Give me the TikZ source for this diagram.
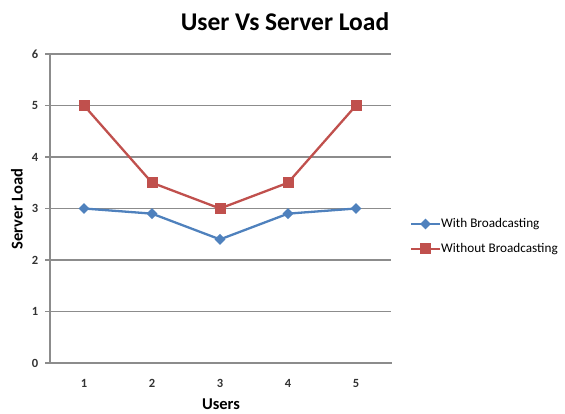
\documentclass[tikz,border=0pt]{standalone}
\usepackage{fontspec}
\setmainfont{Carlito}
\usetikzlibrary{shapes.geometric}
\definecolor{serblue}{HTML}{4F81BD}
\definecolor{serred}{HTML}{C0504D}
\definecolor{gridgray}{HTML}{8C8C8C}
\begin{document}
\begin{tikzpicture}[x=1pt,y=-1pt,
  grid/.style={draw=gridgray,line width=1.1pt},
  ticklbl/.style={font=\fontsize{12.5}{12.5}\selectfont\bfseries,text=black!80,inner sep=0pt},
  axtitle/.style={font=\fontsize{16.5}{16.5}\selectfont\bfseries,inner sep=0pt},
  bluemark/.style={diamond,fill=serblue,inner sep=0pt,minimum width=11pt,minimum height=11pt},
  redmark/.style={rectangle,fill=serred,inner sep=0pt,minimum size=11pt},
  blueline/.style={draw=serblue,line width=2.3pt,line join=round},
  redline/.style={draw=serred,line width=2.3pt,line join=round},
  legtext/.style={font=\fontsize{13.2}{13.2}\selectfont,anchor=west,inner sep=0pt}]
\useasboundingbox (0,0) rectangle (565,414);

% horizontal gridlines and value-axis labels
\foreach \k in {1,...,6} {
  \draw[grid] (45,{363-51.5*\k}) -- (391,{363-51.5*\k});
}
\foreach \k in {0,...,6} {
  \node[ticklbl] (yl\k) at (35,{363-51.5*\k}) {\k};
}
% axes
\draw[grid] (50,55) -- (50,363);
\draw[grid] (45,363) -- (392,363);

% category labels
\foreach \i in {1,...,5} {
  \node[ticklbl] (xl\i) at ({50+68*(\i-0.5)},383) {\i};
}

% titles
\node[font=\fontsize{25.5}{25.5}\selectfont\bfseries,inner sep=0pt] (title) at (285,22) {User Vs Server Load};
\node[axtitle] (xtitle) at (221,404) {Users};
\node[axtitle,rotate=90] (ytitle) at (17,209) {Server Load};

% series: without broadcasting
\foreach \i/\v in {1/5,2/3.5,3/3,4/3.5,5/5} {
  \coordinate (r\i) at ({50+68*(\i-0.5)},{363-51.5*\v});
}
\draw[redline] (r1) -- (r2) -- (r3) -- (r4) -- (r5);
\foreach \i in {1,...,5} { \node[redmark] (rm\i) at (r\i) {}; }

% series: with broadcasting
\foreach \i/\v in {1/3,2/2.9,3/2.4,4/2.9,5/3} {
  \coordinate (b\i) at ({50+68*(\i-0.5)},{363-51.5*\v});
}
\draw[blueline] (b1) -- (b2) -- (b3) -- (b4) -- (b5);
\foreach \i in {1,...,5} { \node[bluemark] (bm\i) at (b\i) {}; }

% legend
\coordinate (la1) at (411,224);
\coordinate (lb1) at (440,224);
\draw[blueline] (la1) -- (lb1);
\node[bluemark] (lm1) at (425.5,224) {};
\node[legtext] (lt1) at (441,224) {With Broadcasting};
\coordinate (la2) at (411,249);
\coordinate (lb2) at (440,249);
\draw[redline] (la2) -- (lb2);
\node[redmark] (lm2) at (425.5,249) {};
\node[legtext] (lt2) at (441,249) {Without Broadcasting};
\end{tikzpicture}
\end{document}
